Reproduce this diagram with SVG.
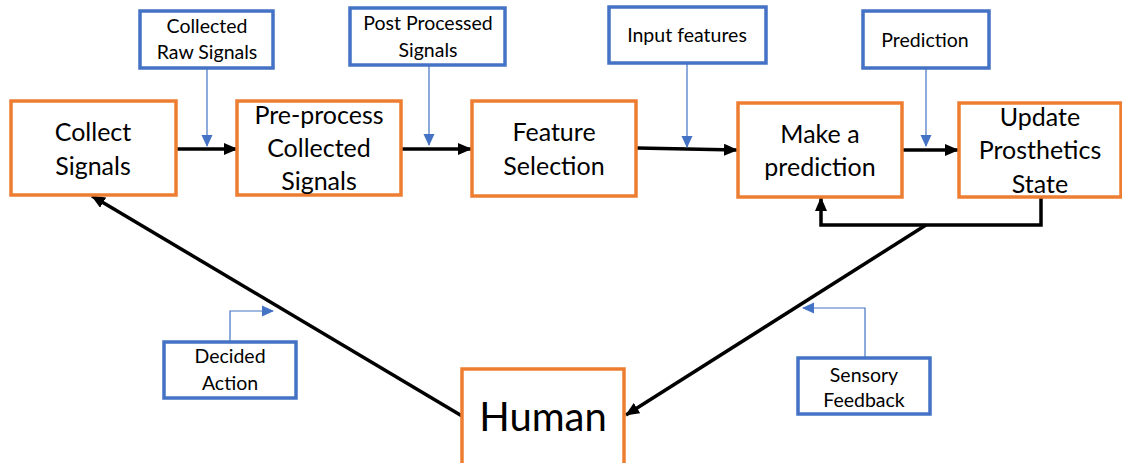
<svg xmlns="http://www.w3.org/2000/svg" width="1122" height="463" viewBox="0 0 1122 463">
<style>
.ob{fill:#fff;stroke:#ED7D31;stroke-width:3.5}
.bb{fill:#fff;stroke:#4472C4;stroke-width:3.5}
.t{font-family:Lato,"Liberation Sans",sans-serif;font-size:25px;fill:#000;text-anchor:middle}
.s{font-family:Lato,"Liberation Sans",sans-serif;font-size:19.5px;fill:#000;text-anchor:middle}
.h{font-family:Lato,"Liberation Sans",sans-serif;font-size:40px;fill:#000;text-anchor:middle}
.k{fill:none;stroke:#000;stroke-width:3.5}
.bl{fill:none;stroke:#4472C4;stroke-width:1.2}
</style>
<defs>
<marker id="ka" markerUnits="userSpaceOnUse" markerWidth="14" markerHeight="12" refX="13" refY="6" orient="auto"><path d="M0,0L14,6L0,12Z" fill="#000"/></marker>
<marker id="ba" markerUnits="userSpaceOnUse" markerWidth="12" markerHeight="12" refX="11" refY="6" orient="auto"><path d="M0,0.5L12,6L0,11.5Z" fill="#4472C4"/></marker>
</defs>
<rect width="1122" height="463" fill="#fff"/>
<g id="connectors">
<line class="k" x1="176" y1="149" x2="237" y2="149" marker-end="url(#ka)"/>
<line class="k" x1="401" y1="149" x2="471" y2="149" marker-end="url(#ka)"/>
<line class="k" x1="637" y1="148" x2="737" y2="150" marker-end="url(#ka)"/>
<line class="k" x1="903" y1="150" x2="958" y2="150" marker-end="url(#ka)"/>
<polyline class="k" points="1041,198 1041,225 821,225 821,198" marker-end="url(#ka)"/>
<line class="k" x1="926" y1="225" x2="626" y2="415" marker-end="url(#ka)"/>
<line class="k" x1="462" y1="416" x2="92" y2="196" marker-end="url(#ka)"/>
<line class="bl" x1="207" y1="69" x2="207" y2="146" marker-end="url(#ba)"/>
<line class="bl" x1="429" y1="66" x2="429" y2="145" marker-end="url(#ba)"/>
<line class="bl" x1="687" y1="64" x2="687" y2="147" marker-end="url(#ba)"/>
<line class="bl" x1="926" y1="69" x2="926" y2="146" marker-end="url(#ba)"/>
<polyline class="bl" points="230,341 230,311 273,311" marker-end="url(#ba)"/>
<polyline class="bl" points="865,357 865,308 803,308" marker-end="url(#ba)"/>
</g>
<g id="collect"><rect class="ob" x="11" y="101" width="165" height="94"/><text class="t" x="93" y="141">Collect</text><text class="t" x="93" y="175">Signals</text></g>
<g id="preprocess"><rect class="ob" x="237" y="101" width="164" height="94"/><text class="t" x="319" y="124">Pre-process</text><text class="t" x="319" y="157">Collected</text><text class="t" x="319" y="190">Signals</text></g>
<g id="feature"><rect class="ob" x="472" y="101" width="164" height="95"/><text class="t" x="554" y="141">Feature</text><text class="t" x="554" y="175">Selection</text></g>
<g id="predict"><rect class="ob" x="738" y="103" width="164" height="94"/><text class="t" x="820" y="143">Make a</text><text class="t" x="820" y="176">prediction</text></g>
<g id="update"><rect class="ob" x="959" y="103" width="162" height="94"/><text class="t" x="1040" y="126">Update</text><text class="t" x="1040" y="159">Prosthetics</text><text class="t" x="1040" y="193">State</text></g>
<g id="human"><rect class="ob" x="462" y="369" width="162" height="96"/><text class="h" x="543" y="431">Human</text></g>
<g id="raw"><rect class="bb" x="140" y="11" width="133" height="57"/><text class="s" x="207" y="33">Collected</text><text class="s" x="207" y="59">Raw Signals</text></g>
<g id="post"><rect class="bb" x="350" y="8" width="155" height="57"/><text class="s" x="428" y="30">Post Processed</text><text class="s" x="428" y="57">Signals</text></g>
<g id="input"><rect class="bb" x="609" y="7" width="157" height="56"/><text class="s" x="687" y="42">Input features</text></g>
<g id="prediction"><rect class="bb" x="863" y="11" width="126" height="57"/><text class="s" x="925" y="47">Prediction</text></g>
<g id="decided"><rect class="bb" x="164" y="342" width="132" height="56"/><text class="s" x="230" y="363">Decided</text><text class="s" x="230" y="390">Action</text></g>
<g id="sensory"><rect class="bb" x="798" y="358" width="132" height="56"/><text class="s" x="864" y="382">Sensory</text><text class="s" x="864" y="407">Feedback</text></g>
</svg>
